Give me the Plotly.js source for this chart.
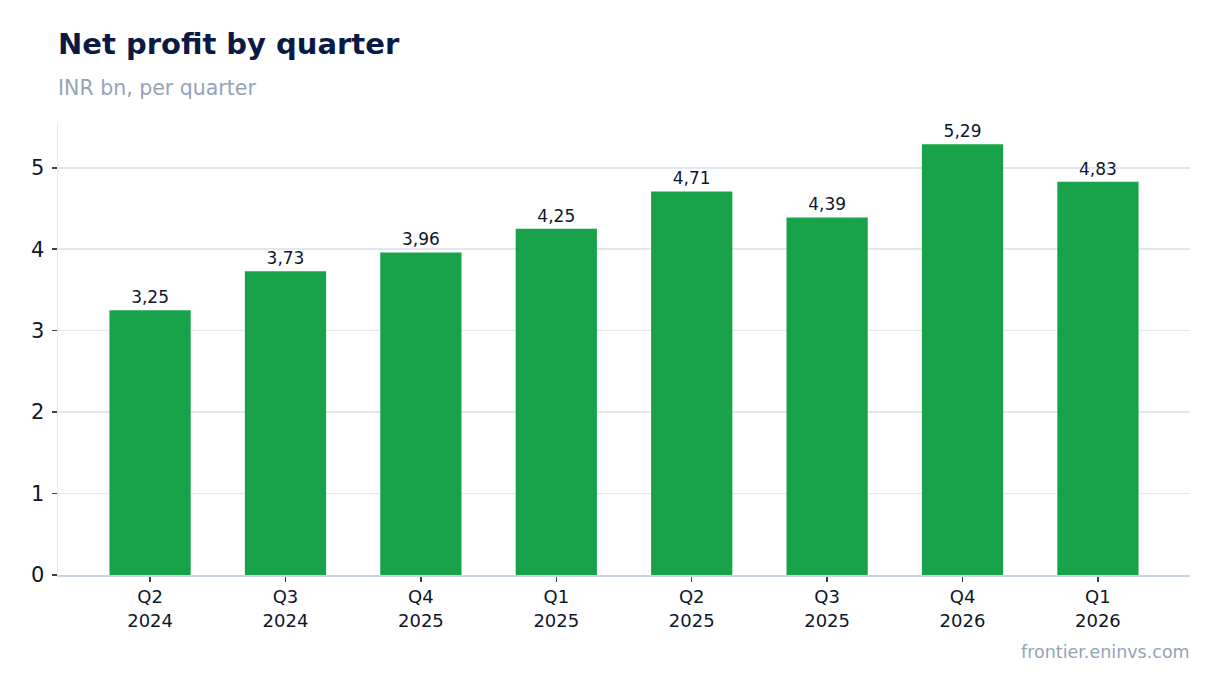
<!DOCTYPE html>
<html>
<head>
<meta charset="utf-8">
<script src="https://cdn.plot.ly/plotly-3.0.1.min.js"></script>
<style>
  html, body { margin: 0; padding: 0; background: #ffffff; }
  #chart { width: 1220px; height: 693px; }
</style>
</head>
<body>
<div id="chart"></div>
<script>
const quarters = ['Q2<br>2024', 'Q3<br>2024', 'Q4<br>2025', 'Q1<br>2025', 'Q2<br>2025', 'Q3<br>2025', 'Q4<br>2026', 'Q1<br>2026']
const netProfit = [3.25, 3.73, 3.96, 4.25, 4.71, 4.39, 5.29, 4.83]

const fontFamily = 'DejaVu Sans, sans-serif'

const data = [{
    x: quarters,
    y: netProfit,
    type: 'bar',
    marker: { color: '#18a34a' },
    texttemplate: '%{y:.2f}',
    textposition: 'outside',
    cliponaxis: false,
    textfont: { family: fontFamily, size: 17, color: '#0f172a' },
    hoverinfo: 'skip'
}]

const layout = {
    width: 1220,
    height: 693,
    separators: ', ',
    paper_bgcolor: '#ffffff',
    plot_bgcolor: '#ffffff',
    font: { family: fontFamily, color: '#0f172a' },
    showlegend: false,
    bargap: 0.4,
    margin: { l: 58, r: 30, t: 123, b: 118, pad: 0 },
    xaxis: {
        type: 'category',
        range: [-0.68, 7.68],
        showline: true,
        linecolor: '#cbd5e1',
        linewidth: 1.5,
        ticks: 'outside',
        ticklen: 5,
        tickcolor: '#334155',
        tickwidth: 1.5,
        tickfont: { family: fontFamily, size: 18, color: '#0f172a' },
        showgrid: false
    },
    yaxis: {
        range: [0, 5.55],
        dtick: 1,
        showline: true,
        linecolor: '#e2e8f0',
        linewidth: 1.5,
        ticks: 'outside',
        ticklen: 5,
        tickcolor: '#334155',
        tickwidth: 1.5,
        ticklabelstandoff: 3,
        gridcolor: '#e2e8f0',
        gridwidth: 1.5,
        zeroline: false,
        tickfont: { family: fontFamily, size: 21, color: '#0f172a' }
    },
    annotations: [
        {
            text: '<b>Net profit by quarter</b>',
            xref: 'paper', yref: 'paper', x: 0, y: 1.175, xshift: -2,
            xanchor: 'left', yanchor: 'middle', showarrow: false,
            font: { family: fontFamily, size: 29, color: '#0b1a45' }
        },
        {
            text: 'INR bn, per quarter',
            xref: 'paper', yref: 'paper', x: 0, y: 1.077, xshift: -2,
            xanchor: 'left', yanchor: 'middle', showarrow: false,
            font: { family: fontFamily, size: 20.5, color: '#94a3b8' }
        },
        {
            text: 'frontier.eninvs.com',
            xref: 'paper', yref: 'paper', x: 1, y: -0.17, xshift: 2,
            xanchor: 'right', yanchor: 'middle', showarrow: false,
            font: { family: fontFamily, size: 17.5, color: '#94a3b8' }
        }
    ]
}

Plotly.newPlot('chart', data, layout, { displayModeBar: false, staticPlot: true })
</script>
</body>
</html>
